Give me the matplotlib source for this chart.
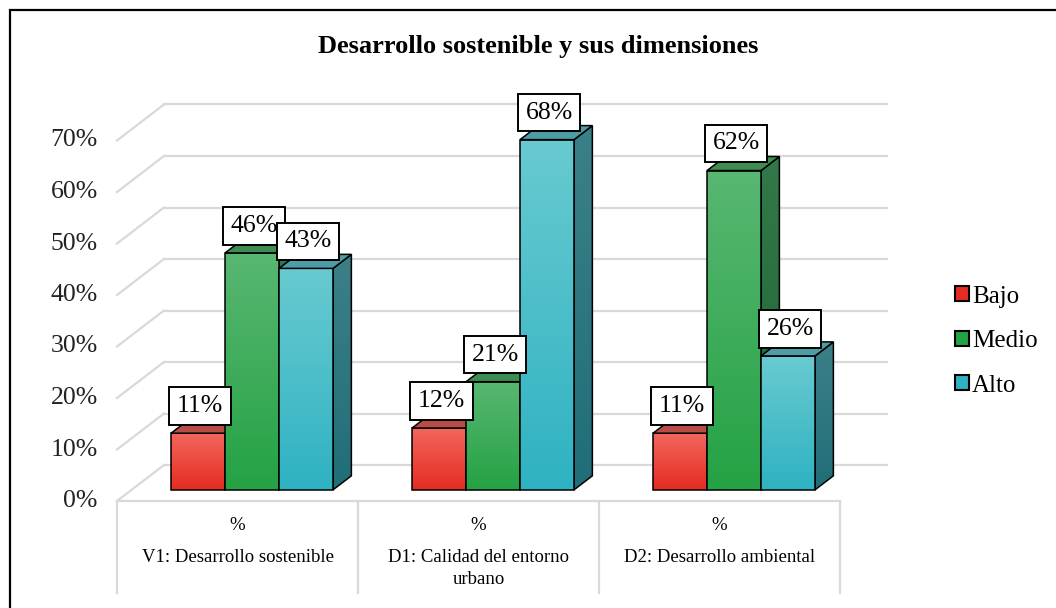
import matplotlib
matplotlib.use("Agg")
import matplotlib.pyplot as plt
import numpy as np
from matplotlib.patches import Rectangle, Polygon, Patch

# datos
categorias = ["V1: Desarrollo sostenible", "D1: Calidad del entorno\nurbano", "D2: Desarrollo ambiental"]
niveles = ["Bajo", "Medio", "Alto"]
bajo = [11, 12, 11]
medio = [46, 21, 62]
alto = [43, 68, 26]
ticks = [0, 10, 20, 30, 40, 50, 60, 70]

# colores (frente arriba, frente abajo, tapa, lado arriba, lado abajo)
col_bajo = ["#f2665c", "#e52c22", "#b84c48", "#b0403a", "#9a2a22"]
col_medio = ["#58b772", "#25a244", "#3e8c50", "#32784a", "#1f6632"]
col_alto = ["#68cad0", "#2fb2c2", "#4d9ca6", "#3c8088", "#206e78"]
grid_col = "#d9d9d9"

plt.rcParams["font.family"] = ["Liberation Serif", "DejaVu Serif"]

W, H = 1056, 608
fig = plt.figure(figsize=(W / 100, H / 100), dpi=100)
ax = fig.add_axes([0, 0, 1, 1])
ax.axis("off")

# escala: 1 categoria = 241 px, 1 % = 5.15 px
px_x, px_y = 241.0, 5.15
x0_px, y0_px = 237.5, 501.0
depth = np.array([47 / px_x, 36 / px_y])   # profundidad del piso en unidades de datos
z_front, z_back = 0.31, 0.70
bw = 0.224


def hex2rgb(h):
    return np.array([int(h[i:i + 2], 16) / 255 for i in (1, 3, 5)])


def degradado(poly, c_top, c_bot, z):
    verts = poly.get_xy()
    ext = (verts[:, 0].min(), verts[:, 0].max(), verts[:, 1].min(), verts[:, 1].max())
    t = np.linspace(0, 1, 64)[:, None]
    img = hex2rgb(c_bot) * (1 - t) + hex2rgb(c_top) * t
    im = ax.imshow(img.reshape(64, 1, 3), extent=ext, origin="lower", aspect="auto",
                   interpolation="bilinear", zorder=z)
    im.set_clip_path(poly)


def barra(x, v, cols, z):
    sx, sy = depth * z_front
    dx, dy = depth * (z_back - z_front)
    xa, xb = x + sx, x + sx + bw
    ya, yb = sy, sy + v
    lado = Polygon([(xb, ya), (xb + dx, ya + dy), (xb + dx, yb + dy), (xb, yb)],
                   closed=True, fill=False, ec="black", lw=1.1, zorder=z + 0.01)
    ax.add_patch(lado)
    degradado(lado, cols[3], cols[4], z)
    frente = Polygon([(xa, ya), (xb, ya), (xb, yb), (xa, yb)],
                     closed=True, fill=False, ec="black", lw=1.1, zorder=z + 0.03)
    ax.add_patch(frente)
    degradado(frente, cols[0], cols[1], z + 0.02)
    tapa = Polygon([(xa, yb), (xb, yb), (xb + dx, yb + dy), (xa + dx, yb + dy)],
                   closed=True, fc=cols[2], ec="black", lw=1.1, zorder=z + 0.04)
    ax.add_patch(tapa)
    ax.annotate(f"{v}%", xy=((xa + xb) / 2, yb), xytext=(1.5, 19.5), textcoords="offset points",
                ha="center", va="center", fontsize=18.5, zorder=50,
                bbox=dict(boxstyle="square,pad=0.3", fc="white", ec="black", lw=1.4))


n = len(categorias)
# paredes y rejilla
for t in ticks:
    ax.plot([-0.5, -0.5 + depth[0]], [t, t + depth[1]], color=grid_col, lw=1.6, zorder=1)
    ax.plot([-0.5 + depth[0], n - 0.5 + depth[0]], [t + depth[1], t + depth[1]],
            color=grid_col, lw=1.6, zorder=1)
    ax.text(-0.5 - 0.08, t, f"{t}%", ha="right", va="center", fontsize=18.5, color="#222222")

# tabla de categorias
y_fondo = (y0_px - 593) / px_y
ax.plot([-0.5, n - 0.5], [0, 0], color=grid_col, lw=1.6, zorder=1)
for i in range(n + 1):
    ax.plot([i - 0.5, i - 0.5], [0, y_fondo], color=grid_col, lw=1.6, zorder=1)
for i, c in enumerate(categorias):
    ax.text(i, (y0_px - 525) / px_y, "%", ha="center", va="center", fontsize=13.5)
    ax.text(i, (y0_px - 549) / px_y, c, ha="center", va="top", fontsize=13.5, linespacing=1.4)

# barras, de izquierda a derecha
series = [bajo, medio, alto]
colores = [col_bajo, col_medio, col_alto]
k = 0
for i in range(n):
    for j in range(3):
        x = i - 1.5 * bw + j * bw
        barra(x, series[j][i], colores[j], 2 + 0.1 * k)
        k += 1

ax.set_xlim(-x0_px / px_x, (W - x0_px) / px_x)
ax.set_ylim((y0_px - H) / px_y, y0_px / px_y)

# titulo, leyenda y marco
fig.text(538 / W, 1 - 46 / H, "Desarrollo sostenible y sus dimensiones", ha="center", va="center",
         fontsize=19, fontweight="bold")
handles = [Patch(fc=c[1], ec="black", lw=1.5) for c in colores]
fig.legend(handles, niveles, loc="center left", bbox_to_anchor=(955 / W, 1 - 341 / H),
           frameon=False, fontsize=18, handlelength=0.55, handleheight=0.55,
           handletextpad=0.12, labelspacing=0.9, borderpad=0, borderaxespad=0)
fig.patches.append(Rectangle((10 / W, -0.05), 1.2, 1.05 - 10 / H, transform=fig.transFigure,
                             fill=False, ec="black", lw=1.6))

fig.savefig("out.png", dpi=100)
